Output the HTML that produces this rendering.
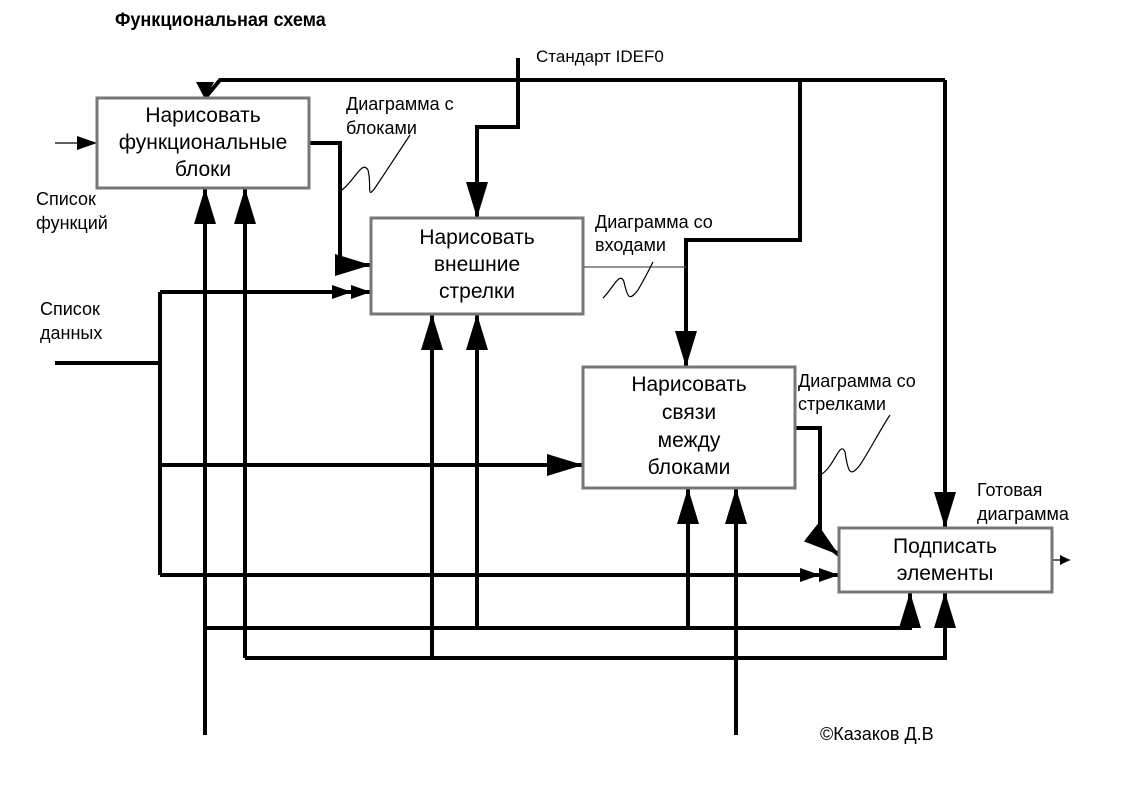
<!DOCTYPE html>
<html><head><meta charset="utf-8"><style>
html,body{margin:0;padding:0;background:#fff}
svg{display:block}
text{font-family:"Liberation Sans",sans-serif;fill:#000}
</style></head><body>
<svg width="1123" height="794" viewBox="0 0 1123 794" xmlns="http://www.w3.org/2000/svg">
<defs>
<marker id="a" viewBox="0 0 10 10" refX="10" refY="5" markerWidth="10" markerHeight="10" markerUnits="userSpaceOnUse" orient="auto"><path d="M0,0L10,5L0,10z"/></marker>
<marker id="b" viewBox="0 0 10 10" refX="10" refY="5" markerWidth="36" markerHeight="22" markerUnits="userSpaceOnUse" orient="auto" preserveAspectRatio="none"><path d="M0,0L10,5L0,10z"/></marker>
<marker id="c" viewBox="0 0 10 10" refX="10" refY="5" markerWidth="20" markerHeight="14" markerUnits="userSpaceOnUse" orient="auto" preserveAspectRatio="none"><path d="M0,0L10,5L0,10z"/></marker>
</defs>
<text x="115" y="26" font-size="19" font-weight="bold" transform="translate(115 0) scale(0.95 1) translate(-115 0)">Функциональная схема</text>
<text x="536" y="62" font-size="17">Стандарт IDEF0</text>

<g fill="none" stroke="#000" stroke-width="4">
<polyline points="518,58 518,127 477,127 477,218" marker-end="url(#b)"/>
<polyline points="945,80 945,528" marker-end="url(#b)"/>
<polyline points="945,80 220,80 205,98" />
<polyline points="800,80 800,240 686,240 686,367" marker-end="url(#b)"/>
<polyline points="309,143 340,143 340,265 371,265" marker-end="url(#b)"/>
<polyline points="795,428 820,428 820,540 839,555" marker-end="url(#b)"/>
<polyline points="55,363 160,363"/>
<polyline points="160,292 160,575"/>
<polyline points="160,292 371,292" marker-end="url(#c)"/>
<polyline points="160,292 352,292" marker-end="url(#c)"/>
<polyline points="160,465 583,465" marker-end="url(#b)"/>
<polyline points="160,575 839,575" marker-end="url(#c)"/>
<polyline points="160,575 820,575" marker-end="url(#c)"/>
<polyline points="205,735 205,188" marker-end="url(#b)"/>
<polyline points="245,658 245,188" marker-end="url(#b)"/>
<polyline points="205,628 910,628 910,592" marker-end="url(#b)"/>
<polyline points="245,658 945,658 945,592" marker-end="url(#b)"/>
<polyline points="432,658 432,314" marker-end="url(#b)"/>
<polyline points="477,628 477,314" marker-end="url(#b)"/>
<polyline points="688,628 688,488" marker-end="url(#b)"/>
<polyline points="736,735 736,488" marker-end="url(#b)"/>
</g>
<path d="M205,99 L196,82 L214,82z"/>
<g fill="none" stroke="#000" stroke-width="1.2">
<line x1="55" y1="143" x2="97" y2="143" marker-end="url(#c)"/>
<line x1="1052" y1="560" x2="1070" y2="560" marker-end="url(#a)"/>
<line x1="583" y1="267" x2="686" y2="267" stroke="#555"/>
<path d="M342,190 C355,180 362,160 368,170 C372,185 366,200 375,188 C390,165 400,150 410,135"/>
<path d="M603,298 C612,290 620,270 624,282 C628,300 630,300 638,290 C645,278 650,268 653,262"/>
<path d="M822,474 C835,465 840,440 845,452 C848,472 850,478 860,465 C870,450 880,430 890,415"/>
</g>
<g fill="#fff" stroke="#777" stroke-width="3">
<rect x="97" y="98" width="212" height="90"/>
<rect x="371" y="218" width="212" height="96"/>
<rect x="583" y="367" width="212" height="121"/>
<rect x="839" y="528" width="213" height="64"/>
</g>
<g font-size="21" text-anchor="middle">
<text x="203" y="122">Нарисовать</text><text x="203" y="149">функциональные</text><text x="203" y="176">блоки</text>
<text x="477" y="244">Нарисовать</text><text x="477" y="271">внешние</text><text x="477" y="298">стрелки</text>
<text x="689" y="391">Нарисовать</text><text x="689" y="419">связи</text><text x="689" y="447">между</text><text x="689" y="474">блоками</text>
<text x="945" y="553">Подписать</text><text x="945" y="580">элементы</text>
</g>
<g font-size="18">
<text x="346" y="110">Диаграмма с</text><text x="346" y="134">блоками</text>
<text x="36" y="205">Список</text><text x="36" y="229">функций</text>
<text x="40" y="315">Список</text><text x="40" y="339">данных</text>
<text x="595" y="228">Диаграмма со</text><text x="595" y="251">входами</text>
<text x="798" y="387">Диаграмма со</text><text x="798" y="410">стрелками</text>
<text x="977" y="496">Готовая</text><text x="977" y="520">диаграмма</text>
<text x="820" y="740">©Казаков Д.В</text>
</g>
</svg>
</body></html>
